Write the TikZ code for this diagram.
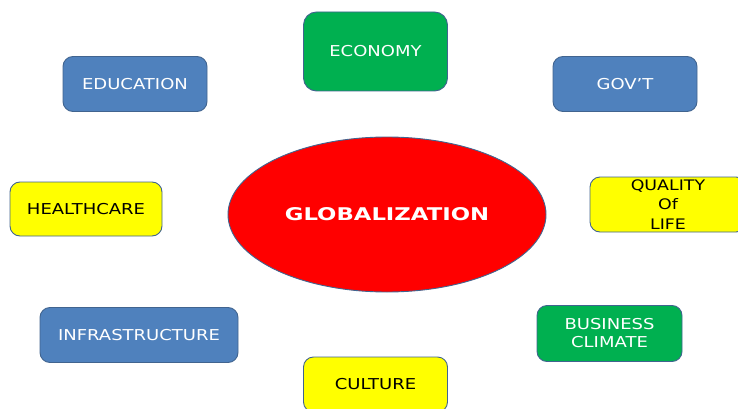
\documentclass[tikz,border=0pt]{standalone}
\usepackage{fontspec}
\usetikzlibrary{shapes.geometric}
\newfontfamily\lab[FakeStretch=1.2]{DejaVu Sans}
\newfontfamily\labbold[FakeStretch=1.3]{DejaVu Sans Bold}
\definecolor{boxblue}{HTML}{4F81BD}
\definecolor{boxgreen}{HTML}{00B050}
\definecolor{boxyellow}{HTML}{FFFF00}
\definecolor{boxred}{HTML}{FF0000}
\definecolor{edge}{HTML}{41648F}
\tikzset{
  base/.style={draw=edge, line width=0.9pt, rounded corners=10pt, align=center,
    font=\lab\fontsize{15}{18}\selectfont, inner sep=0pt},
  bluebox/.style={base, fill=boxblue, text=white},
  greenbox/.style={base, fill=boxgreen, text=white},
  yellowbox/.style={base, fill=boxyellow, text=black},
}
\begin{document}
\begin{tikzpicture}[x=1pt,y=-1pt]
\useasboundingbox (0,0) rectangle (738,409);
\clip (0,0) rectangle (738,409);
\node[greenbox, rounded corners=13pt, minimum width=144pt, minimum height=79pt] (economy) at (375.5,51.5) {ECONOMY};
\node[bluebox, minimum width=144pt, minimum height=55pt] (education) at (135,84) {EDUCATION};
\node[bluebox, minimum width=144pt, minimum height=55pt] (govt) at (625,84) {GOV’T};
\node[yellowbox, minimum width=152pt, minimum height=54pt] (health) at (86,209) {HEALTHCARE};
\node[yellowbox, minimum width=156pt, minimum height=55pt, font=\lab\fontsize{14.5}{19.5}\selectfont] (quality) at (668,204.5) {QUALITY\\Of\\LIFE};
\node[ellipse, draw=edge, line width=0.9pt, fill=boxred, text=white, minimum width=318pt, minimum height=155pt, font=\labbold\fontsize{17.5}{18}\selectfont] (glob) at (387,214.5) {GLOBALIZATION};
\node[bluebox, minimum width=198pt, minimum height=55pt] (infra) at (139,335) {INFRASTRUCTURE};
\node[greenbox, minimum width=145pt, minimum height=56pt] (business) at (609.5,333.5) {BUSINESS\\CLIMATE};
\node[yellowbox, minimum width=144pt, minimum height=55pt] (culture) at (375.5,384.5) {CULTURE};
\end{tikzpicture}
\end{document}
